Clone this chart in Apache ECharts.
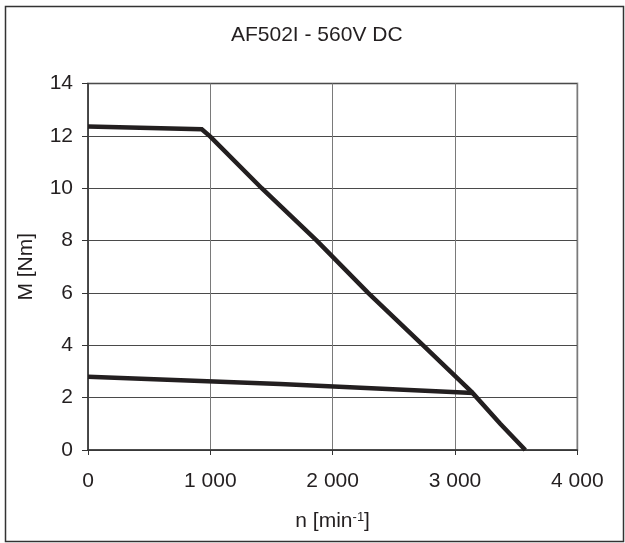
<!DOCTYPE html>
<html>
<head>
<meta charset="utf-8">
<script src="https://cdn.jsdelivr.net/npm/echarts@6/dist/echarts.min.js"></script>
<style>
html,body{margin:0;padding:0;background:#fff;}
#c{width:625px;height:543px;}
</style>
</head>
<body>
<div id="c"></div>
<script>
// Data
var titleText = 'AF502I - 560V DC';
var xTickValues = [0, 1000, 2000, 3000, 4000];
var xTickLabels = ['0', '1 000', '2 000', '3 000', '4 000'];
var yTickValues = [0, 2, 4, 6, 8, 10, 12, 14];
var yTickLabels = ['0', '2', '4', '6', '8', '10', '12', '14'];
// upper curve: peak torque (speed, torque)
var peakSpeed  = [0, 930, 1000, 1420, 1870, 2290, 2740, 3140, 3370, 3575];
var peakTorque = [12.36, 12.25, 11.97, 10.0, 8.0, 6.0, 4.0, 2.2, 1.0, 0];
// lower curve: continuous torque
var contSpeed  = [0, 1570, 3150];
var contTorque = [2.8, 2.52, 2.18];

function pairs(xs, ys) { return xs.map(function (x, i) { return [x, ys[i]]; }); }

var FONT = '"Liberation Sans", Arial, sans-serif';
var TXT = '#231f20';

var chart = echarts.init(document.getElementById('c'), null, {renderer: 'canvas'});
chart.setOption({
  animation: false,
  backgroundColor: '#fff',
  title: {
    text: titleText,
    left: 226,
    top: 20,
    textStyle: {fontFamily: FONT, fontSize: 21, fontWeight: 'normal', color: TXT}
  },
  graphic: [{
    type: 'rect',
    shape: {x: 5.5, y: 6.5, width: 618, height: 535},
    style: {fill: 'none', stroke: '#333', lineWidth: 1.5},
    silent: true
  }],
  grid: {
    left: 88, right: 47.7, top: 83.5, bottom: 89.7,
    show: true, borderColor: '#999', borderWidth: 2, backgroundColor: 'transparent'
  },
  xAxis: {
    type: 'value',
    min: xTickValues[0], max: xTickValues[xTickValues.length - 1], interval: 1000,
    name: '{a|n [min}{s|-1}{a|]}',
    nameLocation: 'middle',
    nameGap: 61,
    nameTextStyle: {
      fontFamily: FONT, color: TXT,
      rich: {
        a: {fontFamily: FONT, fontSize: 21, color: TXT, verticalAlign: 'bottom', lineHeight: 21},
        s: {fontFamily: FONT, fontSize: 13, color: TXT, verticalAlign: 'top', lineHeight: 13, padding: [0, 0, 14, 0]}
      }
    },
    axisLine: {show: true, onZero: false, lineStyle: {color: '#333', width: 1.5}},
    axisTick: {show: true, inside: false, length: 5, lineStyle: {color: '#333', width: 1}},
    axisLabel: {
      margin: 21, fontFamily: FONT, fontSize: 21, color: TXT,
      formatter: function (v) { var i = xTickValues.indexOf(v); return i >= 0 ? xTickLabels[i] : ''; }
    },
    splitLine: {show: true, lineStyle: {color: '#7a7a7a', width: 1}}
  },
  yAxis: {
    type: 'value',
    min: yTickValues[0], max: yTickValues[yTickValues.length - 1], interval: 2,
    name: 'M [Nm]',
    nameLocation: 'middle',
    nameRotate: 90,
    nameGap: 51,
    nameTextStyle: {fontFamily: FONT, fontSize: 21, color: TXT},
    axisLine: {show: true, onZero: false, lineStyle: {color: '#333', width: 1.5}},
    axisTick: {show: true, inside: false, length: 6, lineStyle: {color: '#333', width: 1}},
    axisLabel: {
      margin: 15, fontFamily: FONT, fontSize: 21, color: TXT,
      formatter: function (v) { var i = yTickValues.indexOf(v); return i >= 0 ? yTickLabels[i] : ''; }
    },
    splitLine: {show: true, lineStyle: {color: '#4a4a4a', width: 1}}
  },
  series: [
    {
      type: 'line', data: pairs(peakSpeed, peakTorque), showSymbol: false, symbol: 'none',
      lineStyle: {color: '#231f20', width: 4.5, cap: 'butt', join: 'miter'}, z: 3
    },
    {
      type: 'line', data: pairs(contSpeed, contTorque), showSymbol: false, symbol: 'none',
      lineStyle: {color: '#231f20', width: 4.5, cap: 'butt', join: 'miter'}, z: 3
    }
  ]
});
</script>
</body>
</html>
